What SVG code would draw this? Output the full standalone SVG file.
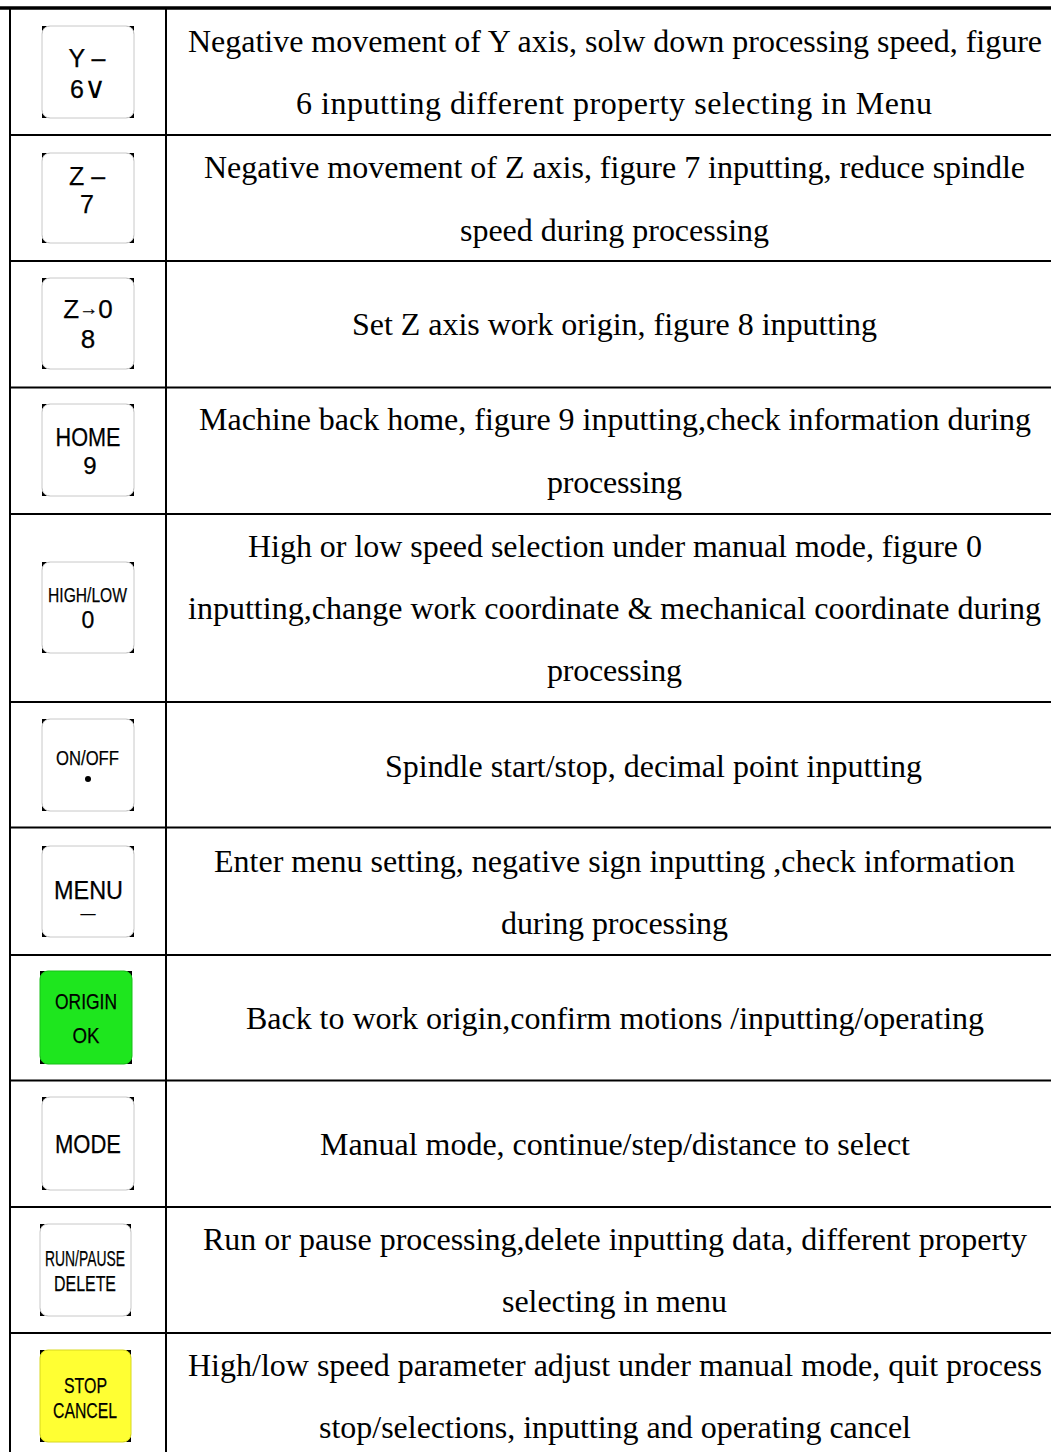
<svg xmlns="http://www.w3.org/2000/svg" width="1051" height="1452" viewBox="0 0 1051 1452">
<style>
.bg{fill:#fff}
.ln{stroke:#000;stroke-width:2;fill:none}
.top{stroke:#000;stroke-width:3.5;fill:none}
.corner{fill:#000}
.kw{fill:#fff;stroke:#c8c8c8;stroke-width:1}
.kg{fill:#1ee61e;stroke:#19c019;stroke-width:1}
.ky{fill:#ffff33;stroke:#d8d820;stroke-width:1}
.kt{font-family:"Liberation Sans",Arial,sans-serif;fill:#000;text-anchor:middle;stroke:#000;stroke-width:0.25}
.d{font-family:"Liberation Serif","Times New Roman",serif;font-size:32px;fill:#000;text-anchor:middle}
</style>
<rect class="bg" x="0" y="0" width="1051" height="1452"/>

<g id="grid">
<line class="top" x1="0" y1="8" x2="1051" y2="8"/>
<line class="ln" x1="10" y1="8" x2="10" y2="1452"/>
<line class="ln" x1="166" y1="8" x2="166" y2="1452"/>
<line class="ln" x1="10" y1="135" x2="1051" y2="135"/>
<line class="ln" x1="10" y1="261" x2="1051" y2="261"/>
<line class="ln" x1="10" y1="387.5" x2="1051" y2="387.5"/>
<line class="ln" x1="10" y1="514" x2="1051" y2="514"/>
<line class="ln" x1="10" y1="702" x2="1051" y2="702"/>
<line class="ln" x1="10" y1="827.5" x2="1051" y2="827.5"/>
<line class="ln" x1="10" y1="955" x2="1051" y2="955"/>
<line class="ln" x1="10" y1="1080.5" x2="1051" y2="1080.5"/>
<line class="ln" x1="10" y1="1207" x2="1051" y2="1207"/>
<line class="ln" x1="10" y1="1333" x2="1051" y2="1333"/>
</g>

<g id="key-y">
<rect class="corner" x="42" y="26" width="92" height="92"/>
<rect class="kw" x="42" y="26" width="92" height="92" rx="8"/>
<text class="kt" font-size="25"><tspan x="87" y="67">Y –</tspan><tspan x="88" y="98">6<tspan font-family="DejaVu Sans,sans-serif" font-size="30" stroke-width="0">∨</tspan></tspan></text>
</g>
<g id="desc-y">
<text class="d" x="615" y="52" textLength="854" lengthAdjust="spacing">Negative movement of Y axis, solw down processing speed, figure</text>
<text class="d" x="614" y="114" textLength="636" lengthAdjust="spacing">6 inputting different property selecting in Menu</text>
</g>

<g id="key-z">
<rect class="corner" x="42" y="153" width="92" height="90"/>
<rect class="kw" x="42" y="153" width="92" height="90" rx="8"/>
<text class="kt" font-size="25"><tspan x="87" y="185">Z –</tspan><tspan x="87" y="213">7</tspan></text>
</g>
<g id="desc-z">
<text class="d" x="614.5" y="178" textLength="821" lengthAdjust="spacing">Negative movement of Z axis, figure 7 inputting, reduce spindle</text>
<text class="d" x="614.5" y="241" textLength="309" lengthAdjust="spacing">speed during processing</text>
</g>

<g id="key-z0">
<rect class="corner" x="42" y="278" width="92" height="91"/>
<rect class="kw" x="42" y="278" width="92" height="91" rx="8"/>
<text class="kt" font-size="26"><tspan x="88" y="318">Z<tspan font-size="19" dy="-3">→</tspan><tspan dy="3">0</tspan></tspan><tspan x="88" y="348">8</tspan></text>
</g>
<g id="desc-z0">
<text class="d" x="614.5" y="335" textLength="525" lengthAdjust="spacing">Set Z axis work origin, figure 8 inputting</text>
</g>

<g id="key-home">
<rect class="corner" x="42" y="404" width="92" height="92"/>
<rect class="kw" x="42" y="404" width="92" height="92" rx="8"/>
<text class="kt" font-size="25"><tspan x="88" y="446" textLength="65" lengthAdjust="spacingAndGlyphs">HOME</tspan><tspan x="90" y="474" font-size="24">9</tspan></text>
</g>
<g id="desc-home">
<text class="d" x="615" y="430" textLength="832" lengthAdjust="spacing">Machine back home, figure 9 inputting,check information during</text>
<text class="d" x="614.5" y="493" textLength="135" lengthAdjust="spacing">processing</text>
</g>

<g id="key-highlow">
<rect class="corner" x="42" y="562" width="92" height="91"/>
<rect class="kw" x="42" y="562" width="92" height="91" rx="8"/>
<text class="kt" font-size="21"><tspan x="87.5" y="602" textLength="79" lengthAdjust="spacingAndGlyphs">HIGH/LOW</tspan><tspan x="88" y="628" font-size="23">0</tspan></text>
</g>
<g id="desc-highlow">
<text class="d" x="615" y="557" textLength="734" lengthAdjust="spacing">High or low speed selection under manual mode, figure 0</text>
<text class="d" x="614.5" y="619" textLength="853" lengthAdjust="spacing">inputting,change work coordinate &amp; mechanical coordinate during</text>
<text class="d" x="614.5" y="681" textLength="135" lengthAdjust="spacing">processing</text>
</g>

<g id="key-onoff">
<rect class="corner" x="42" y="719" width="92" height="92"/>
<rect class="kw" x="42" y="719" width="92" height="92" rx="8"/>
<text class="kt" x="87.5" y="765" font-size="21" textLength="63" lengthAdjust="spacingAndGlyphs">ON/OFF</text>
<circle cx="88" cy="779" r="3" fill="#000"/>
</g>
<g id="desc-onoff">
<text class="d" x="653.5" y="777" textLength="537" lengthAdjust="spacing">Spindle start/stop, decimal point inputting</text>
</g>

<g id="key-menu">
<rect class="corner" x="42" y="846" width="92" height="91"/>
<rect class="kw" x="42" y="846" width="92" height="91" rx="8"/>
<text class="kt" font-size="25"><tspan x="88.5" y="899" textLength="69" lengthAdjust="spacingAndGlyphs">MENU</tspan><tspan x="88" y="918" font-size="15">—</tspan></text>
</g>
<g id="desc-menu">
<text class="d" x="614.5" y="872" textLength="801" lengthAdjust="spacing">Enter menu setting, negative sign inputting ,check information</text>
<text class="d" x="614.5" y="934" textLength="227" lengthAdjust="spacing">during processing</text>
</g>

<g id="key-origin">
<rect class="corner" x="40" y="971" width="92" height="93"/>
<rect class="kg" x="40" y="971" width="92" height="93" rx="8"/>
<text class="kt" font-size="22"><tspan x="86" y="1009" textLength="62" lengthAdjust="spacingAndGlyphs">ORIGIN</tspan><tspan x="86" y="1043" textLength="27" lengthAdjust="spacingAndGlyphs">OK</tspan></text>
</g>
<g id="desc-origin">
<text class="d" x="615" y="1029" textLength="738" lengthAdjust="spacing">Back to work origin,confirm motions /inputting/operating</text>
</g>

<g id="key-mode">
<rect class="corner" x="42" y="1097" width="92" height="93"/>
<rect class="kw" x="42" y="1097" width="92" height="93" rx="8"/>
<text class="kt" x="88" y="1153" font-size="26" textLength="66" lengthAdjust="spacingAndGlyphs">MODE</text>
</g>
<g id="desc-mode">
<text class="d" x="615" y="1155" textLength="590" lengthAdjust="spacing">Manual mode, continue/step/distance to select</text>
</g>

<g id="key-run">
<rect class="corner" x="40" y="1224" width="91" height="92"/>
<rect class="kw" x="40" y="1224" width="91" height="92" rx="8"/>
<text class="kt" font-size="22"><tspan x="85" y="1266" textLength="80" lengthAdjust="spacingAndGlyphs">RUN/PAUSE</tspan><tspan x="85" y="1291" textLength="62" lengthAdjust="spacingAndGlyphs">DELETE</tspan></text>
</g>
<g id="desc-run">
<text class="d" x="615" y="1250" textLength="824" lengthAdjust="spacing">Run or pause processing,delete inputting data, different property</text>
<text class="d" x="614.5" y="1312" textLength="225" lengthAdjust="spacing">selecting in menu</text>
</g>

<g id="key-stop">
<rect class="corner" x="40" y="1350" width="91" height="92"/>
<rect class="ky" x="40" y="1350" width="91" height="92" rx="8"/>
<text class="kt" font-size="22"><tspan x="85.5" y="1393" textLength="43" lengthAdjust="spacingAndGlyphs">STOP</tspan><tspan x="85" y="1417.5" textLength="64" lengthAdjust="spacingAndGlyphs">CANCEL</tspan></text>
</g>
<g id="desc-stop">
<text class="d" x="615" y="1376" textLength="854" lengthAdjust="spacing">High/low speed parameter adjust under manual mode, quit process</text>
<text class="d" x="615" y="1438" textLength="592" lengthAdjust="spacing">stop/selections, inputting and operating cancel</text>
</g>
</svg>
